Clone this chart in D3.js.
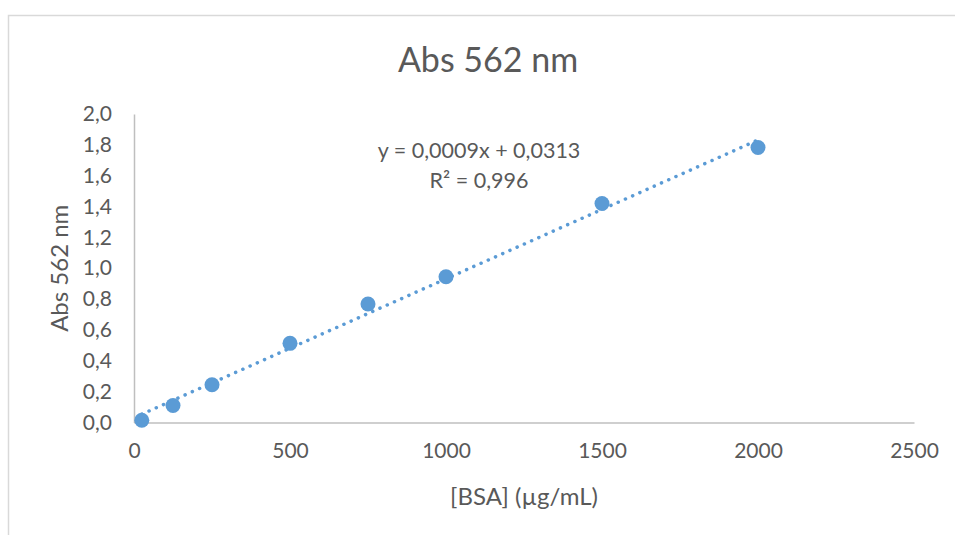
<!DOCTYPE html>
<html>
<head>
<meta charset="utf-8">
<script src="https://cdn.jsdelivr.net/npm/d3@7"></script>
<style>
  body { margin: 0; background: #fff; }
  svg { display: block; overflow: visible; }
</style>
</head>
<body>
<div id="chart"></div>
<script>
// --------------------------------------
//  Data
// --------------------------------------

const concentrations = [25, 125, 250, 500, 750, 1000, 1500, 2000];
const absorbance = [0.015, 0.11, 0.245, 0.513, 0.768, 0.945, 1.42, 1.783];

// linear trendline shown on the chart
const trendSlope = 0.0009;
const trendIntercept = 0.0313;
const trendLabel = ["y = 0,0009x + 0,0313", "R² = 0,996"];

const xTicks = [0, 500, 1000, 1500, 2000, 2500];
const yTicks = [0, 0.2, 0.4, 0.6, 0.8, 1.0, 1.2, 1.4, 1.6, 1.8, 2.0];

// --------------------------------------
//  Margin and canvas
// --------------------------------------

const width = 955;
const height = 535;
const margin = {top: 114, right: 41, bottom: 112.5, left: 134};
const innerWidth = width - margin.left - margin.right;
const innerHeight = height - margin.top - margin.bottom;

const svg = d3.select("#chart")
  .append("svg")
    .attr("width", width)
    .attr("height", height)
    .attr("font-family", "Lato, sans-serif")
    .attr("fill", "#595959");

// chart border (runs past the right and bottom edges)
svg.append("path")
    .attr("d", `M${width},15.5 H8.5 V${height}`)
    .attr("fill", "none")
    .attr("stroke", "#d9d9d9")
    .attr("stroke-width", 1.5);

const innerChart = svg
  .append("g")
    .attr("transform", `translate(${margin.left}, ${margin.top})`);

// comma decimal separator
const locale = d3.formatLocale({decimal: ",", thousands: "", grouping: [3], currency: ["", ""]});
const yFormat = locale.format(".1f");

// --------------------------------------
//  Scales
// --------------------------------------

const x = d3.scaleLinear().domain([0, 2500]).range([0, innerWidth]);
const y = d3.scaleLinear().domain([0, 2]).range([innerHeight, 0]);

// --------------------------------------
//  Axes
// --------------------------------------

const xAxis = innerChart.append("g")
    .attr("transform", `translate(0, ${innerHeight})`)
    .call(d3.axisBottom(x).tickValues(xTicks).tickSize(0).tickPadding(25).tickFormat(d3.format("d")));

const yAxis = innerChart.append("g")
    .call(d3.axisLeft(y).tickValues(yTicks).tickSize(0).tickPadding(22).tickFormat(yFormat));

[xAxis, yAxis].forEach(ax => {
  ax.attr("font-size", 21).attr("font-family", "Lato, sans-serif");
  ax.select(".domain").attr("stroke", "#bfbfbf").attr("stroke-width", 1.5);
  ax.selectAll("text").attr("fill", "#595959");
});
xAxis.selectAll("text").attr("dy", "0.5em");

// --------------------------------------
//  Trendline
// --------------------------------------

const trendX = [d3.min(concentrations), d3.max(concentrations)];
innerChart.append("line")
    .attr("x1", x(trendX[0]))
    .attr("y1", y(trendSlope * trendX[0] + trendIntercept))
    .attr("x2", x(trendX[1]))
    .attr("y2", y(trendSlope * trendX[1] + trendIntercept))
    .attr("stroke", "#5b9bd5")
    .attr("stroke-width", 3.5)
    .attr("stroke-linecap", "round")
    .attr("stroke-dasharray", "0.1 7.8");

// --------------------------------------
//  Points
// --------------------------------------

innerChart.selectAll("circle")
  .data(concentrations)
  .join("circle")
    .attr("cx", d => x(d))
    .attr("cy", (d, i) => y(absorbance[i]))
    .attr("r", 7.5)
    .attr("fill", "#5b9bd5");

// --------------------------------------
//  Texts
// --------------------------------------

innerChart.selectAll(".trend-label")
  .data(trendLabel)
  .join("text")
    .attr("class", "trend-label")
    .attr("x", 345)
    .attr("y", (d, i) => 36 + i * 30)
    .attr("dy", "0.35em")
    .attr("text-anchor", "middle")
    .attr("font-size", 21.5)
    .text(d => d);

svg.append("text")
    .attr("x", 488)
    .attr("y", 60)
    .attr("dy", "0.35em")
    .attr("text-anchor", "middle")
    .attr("font-size", 34)
    .text("Abs 562 nm");

svg.append("text")
    .attr("x", margin.left + innerWidth / 2)
    .attr("y", 497)
    .attr("dy", "0.35em")
    .attr("text-anchor", "middle")
    .attr("font-size", 24)
    .text("[BSA] (µg/mL)");

svg.append("text")
    .attr("transform", `translate(60, ${margin.top + innerHeight / 2}) rotate(-90)`)
    .attr("dy", "0.35em")
    .attr("text-anchor", "middle")
    .attr("font-size", 24)
    .text("Abs 562 nm");
</script>
</body>
</html>
